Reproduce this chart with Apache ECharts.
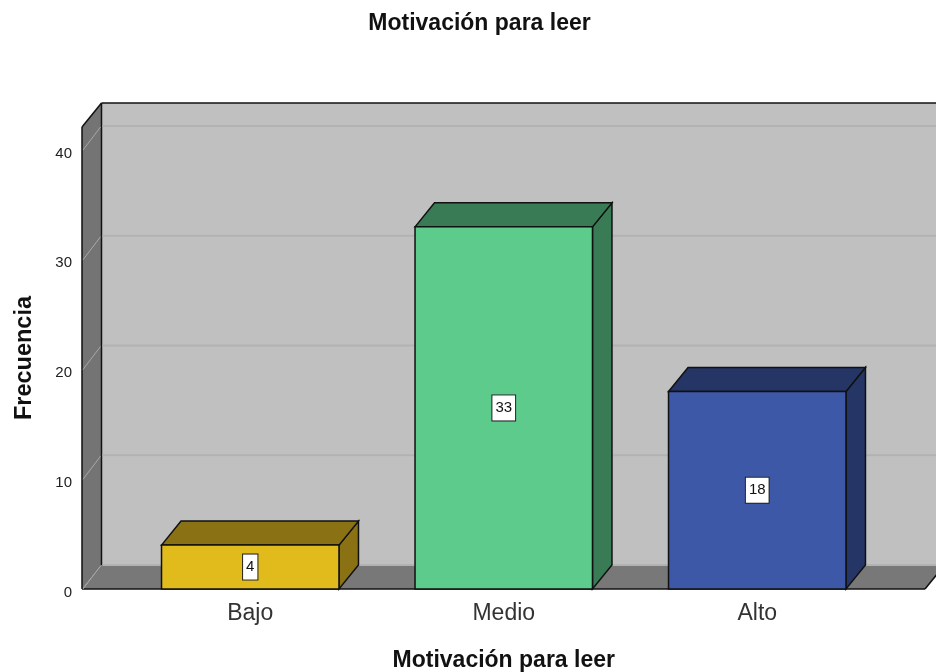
<!DOCTYPE html>
<html>
<head>
<meta charset="utf-8">
<style>
  html, body { margin: 0; padding: 0; background: #fff; }
  #chart { width: 936px; height: 672px; }
</style>
<script src="https://cdn.jsdelivr.net/npm/echarts@6/dist/echarts.min.js"></script>
</head>
<body>
<div id="chart"></div>
<script>
const categories = ['Bajo', 'Medio', 'Alto']
const frecuencia = [4, 33, 18]
const yTicks = [0, 10, 20, 30, 40]
const frontColors = ['#e1bb1c', '#5ccb8c', '#3e58a8']
const sideColors = ['#8a7214', '#387b55', '#253565']

const yMax = 42.1
const depthX = 19.5 // desplazamiento de la profundidad 3D
const depthY = -24
const wallLeft = 82
const floorRight = 925
const lineColor = '#111'

const chart = echarts.init(document.getElementById('chart'))

const poly = (points, fill, stroke, lineWidth) => ({
  type: 'polygon',
  shape: { points },
  style: { fill, stroke: stroke || lineColor, lineWidth: lineWidth === undefined ? 1.5 : lineWidth }
})

const edge = (x1, y1, x2, y2, stroke, lineWidth) => ({
  type: 'line',
  shape: { x1, y1, x2, y2 },
  style: { stroke: stroke || lineColor, lineWidth: lineWidth || 1.5 }
})

const renderWalls = (params, api) => {
  const y0 = api.coord([0, 0])[1]
  const yTop = api.coord([0, yMax])[1]
  const x0 = wallLeft
  const x1 = floorRight
  return {
    type: 'group',
    children: [
      poly([[x0 + depthX, yTop + depthY], [x1 + depthX, yTop + depthY], [x1 + depthX, y0 + depthY], [x0 + depthX, y0 + depthY]], '#c0c0c0', '#c0c0c0', 0),
      poly([[x0, yTop], [x0 + depthX, yTop + depthY], [x0 + depthX, y0 + depthY], [x0, y0]], '#747474', '#747474', 0),
      poly([[x0, y0], [x0 + depthX, y0 + depthY], [x1 + depthX, y0 + depthY], [x1, y0]], '#787878', '#787878', 0),
      edge(x0, yTop, x0, y0),
      edge(x0, yTop, x0 + depthX, yTop + depthY),
      edge(x0, y0, x1, y0),
      edge(x1, y0, x1 + depthX, y0 + depthY),
      edge(x0 + depthX, yTop + depthY, x1 + depthX, yTop + depthY),
      edge(x0 + depthX, yTop + depthY, x0 + depthX, y0 + depthY)
    ]
  }
}

const renderGridLine = (params, api) => {
  const y = api.coord([0, api.value(0)])[1]
  const x0 = wallLeft
  const x1 = floorRight + depthX
  return {
    type: 'group',
    children: [
      edge(x0 + 1, y, x0 + depthX - 1, y + depthY + 1, '#a8a8a8', 1),
      edge(x0 + depthX + 1, y + depthY, x1, y + depthY, '#b2b2b2', 2)
    ]
  }
}

const renderBar = (params, api) => {
  const i = api.value(0)
  const v = api.value(1)
  const top = api.coord([i, v])
  const base = api.coord([i, 0])
  const w = api.size([1, 0])[0] * 0.7
  const l = top[0] - w / 2
  const r = top[0] + w / 2
  const yT = top[1]
  const yB = base[1]
  const labelY = (yT + yB) / 2
  return {
    type: 'group',
    children: [
      poly([[r, yT], [r + depthX, yT + depthY], [r + depthX, yB + depthY], [r, yB]], sideColors[i]),
      poly([[l, yT], [l + depthX, yT + depthY], [r + depthX, yT + depthY], [r, yT]], sideColors[i]),
      poly([[l, yT], [r, yT], [r, yB], [l, yB]], frontColors[i]),
      {
        type: 'text',
        style: {
          x: top[0],
          y: labelY,
          text: String(v),
          align: 'center',
          verticalAlign: 'middle',
          font: '15px "Liberation Sans"',
          fill: '#111',
          backgroundColor: '#fff',
          borderColor: '#222',
          borderWidth: 1,
          padding: [5, 3, 5, 3]
        }
      }
    ]
  }
}

chart.setOption({
  animation: false,
  backgroundColor: '#fff',
  title: {
    text: 'Motivación para leer',
    left: 474.5,
    top: 7,
    textAlign: 'center',
    textStyle: { fontFamily: 'Liberation Sans', fontSize: 23, fontWeight: 'bold', color: '#111' }
  },
  grid: { left: 123.5, top: 127, width: 760.5, height: 462, outerBoundsMode: 'none' },
  xAxis: {
    type: 'category',
    data: categories,
    name: 'Motivación para leer',
    nameLocation: 'middle',
    nameGap: 60,
    nameTextStyle: { fontFamily: 'Liberation Sans', fontSize: 23, fontWeight: 'bold', color: '#111' },
    axisLine: { show: false },
    axisTick: { show: false },
    axisLabel: { fontFamily: 'Liberation Sans', fontSize: 23, color: '#333', margin: 13 }
  },
  yAxis: {
    type: 'value',
    min: 0,
    max: yMax,
    interval: 10,
    offset: 41.5,
    name: 'Frecuencia',
    nameLocation: 'middle',
    nameGap: 45,
    nameTextStyle: { fontFamily: 'Liberation Sans', fontSize: 23.5, fontWeight: 'bold', color: '#111' },
    axisLine: { show: false },
    axisTick: { show: false },
    splitLine: { show: false },
    axisLabel: { showMaxLabel: false, fontFamily: 'Liberation Sans', fontSize: 15, color: '#222', margin: 10, verticalAlign: 'top', lineHeight: 7 }
  },
  series: [
    { type: 'custom', renderItem: renderWalls, data: [[0]], clip: false, silent: true, z: 1 },
    { type: 'custom', renderItem: renderGridLine, data: yTicks.map((t) => [t]), clip: false, silent: true, z: 2 },
    { type: 'custom', renderItem: renderBar, data: frecuencia.map((v, i) => [i, v]), clip: false, z: 3 }
  ]
})
</script>
</body>
</html>
